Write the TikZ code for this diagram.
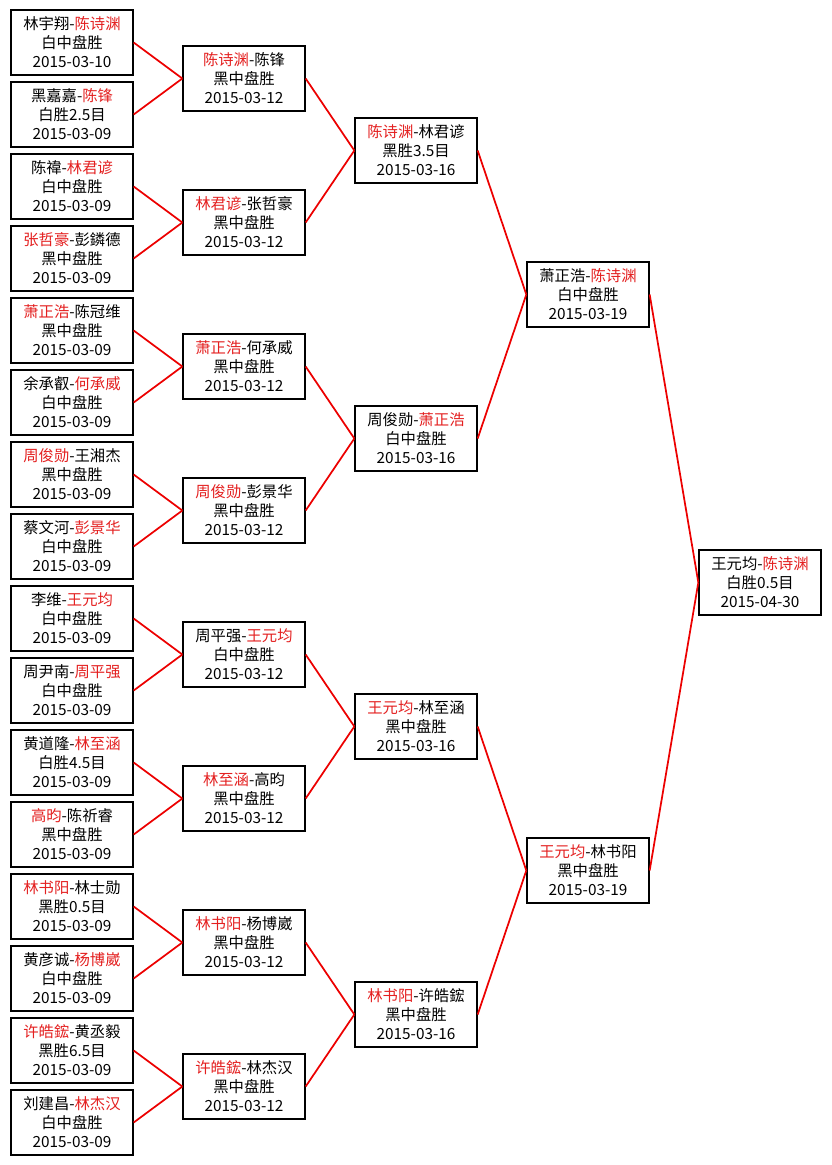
\documentclass[tikz,border=0pt]{standalone}
\usepackage{fontspec}
\usepackage{xcolor}
\setmainfont{Noto Sans CJK SC}
\definecolor{winred}{RGB}{228,32,32}
\definecolor{linkred}{RGB}{236,0,0}
\newcommand{\win}[1]{\textcolor{winred}{#1}}

\begin{document}
\begin{tikzpicture}[x=0.75pt, y=-0.75pt, line join=miter,
  game/.style={draw=black, line width=1.5pt, fill=white, inner sep=0pt,
    minimum width=91pt, minimum height=48.5pt, align=center,
    font=\fontsize{11.5}{14.25}\selectfont},
  link/.style={draw=linkred, line width=1.3pt}]

  % ---- Canvas (pixel grid of the chart, 832 x 1165) ----
  \useasboundingbox (0,0) rectangle (832,1165);

  % Parameters
  \def\xA{72}    % round of 32 column
  \def\xB{244}   % round of 16 column
  \def\xC{416}   % quarter final column
  \def\xD{588}   % semi final column
  \def\xE{760}   % final column

  % ---- Round 1: sixteen games ----
  \foreach \i/\players/\score/\when in {
      1/{林宇翔-\win{陈诗渊}}/白中盘胜/2015-03-10,
      2/{黑嘉嘉-\win{陈锋}}/白胜2.5目/2015-03-09,
      3/{陈禕-\win{林君谚}}/白中盘胜/2015-03-09,
      4/{\win{张哲豪}-彭鏻德}/黑中盘胜/2015-03-09,
      5/{\win{萧正浩}-陈冠维}/黑中盘胜/2015-03-09,
      6/{余承叡-\win{何承威}}/白中盘胜/2015-03-09,
      7/{\win{周俊勋}-王湘杰}/黑中盘胜/2015-03-09,
      8/{蔡文河-\win{彭景华}}/白中盘胜/2015-03-09,
      9/{李维-\win{王元均}}/白中盘胜/2015-03-09,
      10/{周尹南-\win{周平强}}/白中盘胜/2015-03-09,
      11/{黄道隆-\win{林至涵}}/白胜4.5目/2015-03-09,
      12/{\win{高昀}-陈祈睿}/黑中盘胜/2015-03-09,
      13/{\win{林书阳}-林士勋}/黑胜0.5目/2015-03-09,
      14/{黄彦诚-\win{杨博崴}}/白中盘胜/2015-03-09,
      15/{\win{许皓鋐}-黄丞毅}/黑胜6.5目/2015-03-09,
      16/{刘建昌-\win{林杰汉}}/白中盘胜/2015-03-09}{
    \node[game] (r1-\i) at (\xA, {42.5+72*(\i-1)}) {\players\\\score\\\when};
  }

  % ---- Round 2: eight games ----
  \foreach \i/\players/\score/\when in {
      1/{\win{陈诗渊}-陈锋}/黑中盘胜/2015-03-12,
      2/{\win{林君谚}-张哲豪}/黑中盘胜/2015-03-12,
      3/{\win{萧正浩}-何承威}/黑中盘胜/2015-03-12,
      4/{\win{周俊勋}-彭景华}/黑中盘胜/2015-03-12,
      5/{周平强-\win{王元均}}/白中盘胜/2015-03-12,
      6/{\win{林至涵}-高昀}/黑中盘胜/2015-03-12,
      7/{\win{林书阳}-杨博崴}/黑中盘胜/2015-03-12,
      8/{\win{许皓鋐}-林杰汉}/黑中盘胜/2015-03-12}{
    \node[game] (r2-\i) at (\xB, {78.5+144*(\i-1)}) {\players\\\score\\\when};
  }

  % ---- Round 3: quarter finals ----
  \foreach \i/\players/\score/\when in {
      1/{\win{陈诗渊}-林君谚}/黑胜3.5目/2015-03-16,
      2/{周俊勋-\win{萧正浩}}/白中盘胜/2015-03-16,
      3/{\win{王元均}-林至涵}/黑中盘胜/2015-03-16,
      4/{\win{林书阳}-许皓鋐}/黑中盘胜/2015-03-16}{
    \node[game] (r3-\i) at (\xC, {150.5+288*(\i-1)}) {\players\\\score\\\when};
  }

  % ---- Round 4: semi finals ----
  \node[game] (r4-1) at (\xD, 294.5) {萧正浩-\win{陈诗渊}\\白中盘胜\\2015-03-19};
  \node[game] (r4-2) at (\xD, 870.5) {\win{王元均}-林书阳\\黑中盘胜\\2015-03-19};

  % ---- Final ----
  \node[game] (r5-1) at (\xE, 582.5) {王元均-\win{陈诗渊}\\白胜0.5目\\2015-04-30};

  % ---- Bracket lines: two games feed the next one ----
  \foreach \r/\s/\m in {1/2/8, 2/3/4, 3/4/2, 4/5/1}{
    \foreach \j [evaluate=\j as \a using int(2*\j-1),
                 evaluate=\j as \b using int(2*\j)] in {1,...,\m}{
      \draw[link] (r\r-\a.east) -- (r\s-\j.west);
      \draw[link] (r\r-\b.east) -- (r\s-\j.west);
    }
  }

\end{tikzpicture}
\end{document}
